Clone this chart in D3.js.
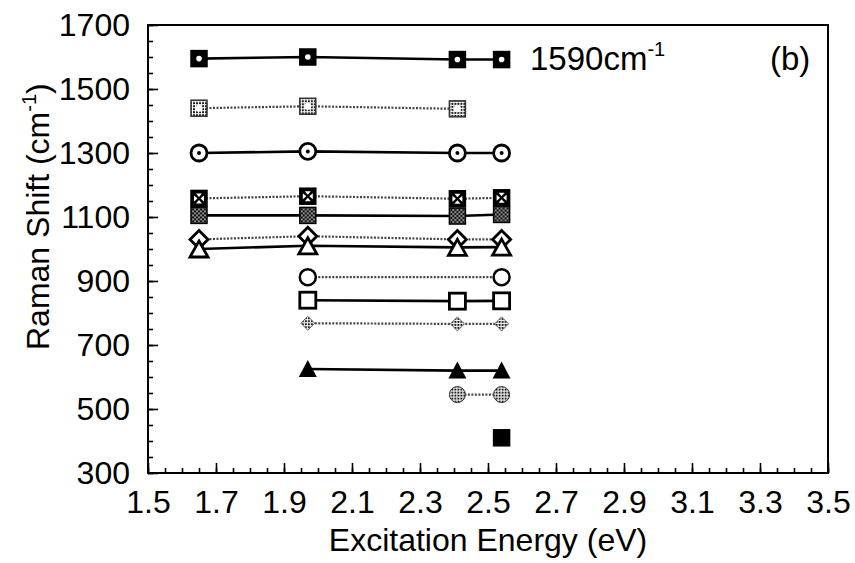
<!DOCTYPE html>
<html>
<head>
<meta charset="utf-8">
<script src="https://cdn.jsdelivr.net/npm/d3@7"></script>
<style>
  body { margin: 0; background: #fff; }
  text { font-family: "Liberation Sans", Arial, sans-serif; fill: #000; }
</style>
</head>
<body>
<svg id="chart" width="855" height="563"></svg>
<script>
// excitation energies (eV) of the laser lines
const energies = [1.65, 1.97, 2.41, 2.54];

// Raman shift (cm^-1) of each mode per energy, null = not observed
const mode1590 = [1595, 1600, 1592, 1592];
const mode1440 = [1440, 1446, 1438, null];
const mode1300 = [1300, 1305, 1300, 1300];
const mode1160 = [1158, 1165, 1157, 1160];
const mode1105 = [1105, 1105, 1103, 1108];
const mode1030 = [1030, 1040, 1030, 1030];
const mode1005 = [1000, 1010, 1005, 1006];
const mode910 = [null, 912, null, 912];
const mode840 = [null, 840, 837, 838];
const mode770 = [null, 768, 766, 766];
const mode620 = [null, 625, 620, 620];
const mode545 = [null, null, 545, 545];
const mode410 = [null, null, null, 410];

const xTicks = [1.5, 1.7, 1.9, 2.1, 2.3, 2.5, 2.7, 2.9, 3.1, 3.3, 3.5];
const yTicks = [300, 500, 700, 900, 1100, 1300, 1500, 1700];

const series = [
  { v: mode1590, marker: "sqDot", dash: false },
  { v: mode1440, marker: "sqGray", dash: true },
  { v: mode1300, marker: "circDot", dash: false },
  { v: mode1160, marker: "sqX", dash: true },
  { v: mode1105, marker: "sqHatch", dash: false },
  { v: mode1030, marker: "diamond", dash: true },
  { v: mode1005, marker: "triangle", dash: false },
  { v: mode910, marker: "circle", dash: true },
  { v: mode840, marker: "square", dash: false },
  { v: mode770, marker: "diaGray", dash: true },
  { v: mode620, marker: "triFill", dash: false },
  { v: mode545, marker: "circGray", dash: true },
  { v: mode410, marker: "sqFill", dash: false }
];

const svg = d3.select("#chart");
const margin = { left: 148, right: 27, top: 25, bottom: 90 };
const width = 855 - margin.left - margin.right;
const height = 563 - margin.top - margin.bottom;

const x = d3.scaleLinear().domain([1.5, 3.5]).range([0, width]);
const y = d3.scaleLinear().domain([300, 1700]).range([height, 0]);

// textures for the grey markers
const defs = svg.append("defs");
const dots = defs.append("pattern").attr("id", "dots")
  .attr("width", 3).attr("height", 3).attr("patternUnits", "userSpaceOnUse");
dots.append("rect").attr("width", 3).attr("height", 3).attr("fill", "#fff");
dots.append("rect").attr("width", 2).attr("height", 2).attr("fill", "#222");
const hatch = defs.append("pattern").attr("id", "hatch")
  .attr("width", 4).attr("height", 4).attr("patternUnits", "userSpaceOnUse");
hatch.append("rect").attr("width", 4).attr("height", 4).attr("fill", "#888");
hatch.append("path").attr("d", "M0,0L4,4M4,0L0,4").attr("stroke", "#111").attr("stroke-width", 1);

const g = svg.append("g").attr("transform", `translate(${margin.left},${margin.top})`);

// frame
g.append("rect").attr("width", width).attr("height", height)
  .attr("fill", "none").attr("stroke", "#000").attr("stroke-width", 2);

// x axis with minor ticks
const xMinor = d3.range(1.5, 3.5001, 0.05);
g.append("g").attr("transform", `translate(0,${height})`)
  .call(d3.axisBottom(x).tickValues(xMinor).tickSize(-5).tickFormat(""))
  .call(a => a.select(".domain").remove());
g.append("g").attr("transform", `translate(0,${height})`)
  .call(d3.axisBottom(x).tickValues(xTicks).tickSize(-10).tickPadding(17).tickFormat(d3.format(".1f")))
  .call(a => a.select(".domain").remove())
  .call(a => a.selectAll("text").attr("font-size", 32).attr("dy", "0.71em"));

// y axis with minor ticks
const yMinor = d3.range(300, 1701, 50);
g.append("g")
  .call(d3.axisLeft(y).tickValues(yMinor).tickSize(-5).tickFormat(""))
  .call(a => a.select(".domain").remove());
g.append("g")
  .call(d3.axisLeft(y).tickValues(yTicks).tickSize(-10).tickPadding(18).tickFormat(d3.format("d")))
  .call(a => a.select(".domain").remove())
  .call(a => a.selectAll("text").attr("font-size", 32));
g.selectAll(".tick line").attr("stroke", "#000").attr("stroke-width", 1.6);

// lines
const line = d3.line()
  .x(d => x(d.e))
  .y(d => y(d.v));

series.forEach(s => {
  const pts = energies.map((e, i) => ({ e, v: s.v[i] })).filter(d => d.v != null);
  if (pts.length < 2) return;
  g.append("path").datum(pts)
    .attr("d", line)
    .attr("fill", "none")
    .attr("stroke", s.dash ? "#444" : "#000")
    .attr("stroke-width", s.dash ? 2.2 : 2.6)
    .attr("stroke-dasharray", s.dash ? "2,1.5" : null);
});

// markers
function drawMarker(sel, type) {
  const r = 8;
  if (type === "square") {
    sel.append("rect").attr("x", -r).attr("y", -r).attr("width", 2 * r).attr("height", 2 * r)
      .attr("fill", "#fff").attr("stroke", "#000").attr("stroke-width", 2.8);
  } else if (type.startsWith("sq")) {
    const fill = { sqDot: "#000", sqGray: "url(#dots)", sqX: "#000", sqHatch: "url(#hatch)", sqFill: "#000" }[type];
    sel.append("rect").attr("x", -r).attr("y", -r).attr("width", 2 * r).attr("height", 2 * r)
      .attr("fill", fill).attr("stroke", type === "sqGray" ? "#333" : "#000").attr("stroke-width", 1.5);
    if (type === "sqDot") sel.append("circle").attr("r", 2.8).attr("fill", "#fff");
    if (type === "sqGray") sel.append("circle").attr("r", 3.5).attr("fill", "#fff");
    if (type === "sqX") {
      sel.append("path").attr("d", "M-3,-5L3,-5L0,-1.5ZM-3,5L3,5L0,1.5ZM-5,-3L-5,3L-1.5,0ZM5,-3L5,3L1.5,0Z")
        .attr("fill", "#fff");
    }
  } else if (type === "circDot") {
    sel.append("circle").attr("r", r).attr("fill", "#fff").attr("stroke", "#000").attr("stroke-width", 2.8);
    sel.append("circle").attr("r", 2).attr("fill", "#000");
  } else if (type === "circle") {
    sel.append("circle").attr("r", r).attr("fill", "#fff").attr("stroke", "#000").attr("stroke-width", 2.5);
  } else if (type === "circGray") {
    sel.append("circle").attr("r", r).attr("fill", "url(#dots)").attr("stroke", "#333").attr("stroke-width", 1);
  } else if (type === "diamond") {
    sel.append("path").attr("d", `M0,${-r - 1}L${r + 1},0L0,${r + 1}L${-r - 1},0Z`)
      .attr("fill", "#fff").attr("stroke", "#000").attr("stroke-width", 2.8);
  } else if (type === "diaGray") {
    sel.append("path").attr("d", "M0,-7L7,0L0,7L-7,0Z")
      .attr("fill", "url(#dots)").attr("stroke", "#666").attr("stroke-width", 1);
  } else if (type === "triangle") {
    sel.append("path").attr("d", `M0,${-r}L${r + 1},${r}L${-r - 1},${r}Z`)
      .attr("fill", "#fff").attr("stroke", "#000").attr("stroke-width", 2.8);
  } else if (type === "triFill") {
    sel.append("path").attr("d", `M0,${-r - 1}L${r + 1},${r}L${-r - 1},${r}Z`).attr("fill", "#000");
  }
}

series.forEach(s => {
  energies.forEach((e, i) => {
    if (s.v[i] == null) return;
    const m = g.append("g").attr("transform", `translate(${x(e)},${y(s.v[i])})`);
    drawMarker(m, s.marker);
  });
});

// annotations
const lab = g.append("text").attr("x", 382).attr("y", 45).attr("font-size", 33);
lab.append("tspan").text("1590cm");
lab.append("tspan").attr("dy", -14).attr("font-size", 20).text("-1");
g.append("text").attr("x", 622).attr("y", 45).attr("font-size", 33).text("(b)");

// axis titles
svg.append("text").attr("x", margin.left + width / 2).attr("y", 551)
  .attr("text-anchor", "middle").attr("font-size", 32).text("Excitation Energy (eV)");
const yt = svg.append("text").attr("transform", "translate(49,350) rotate(-90)")
  .attr("text-anchor", "start").attr("font-size", 32);
yt.append("tspan").text("Raman Shift (cm");
yt.append("tspan").attr("dy", -13).attr("font-size", 20).text("-1");
yt.append("tspan").attr("dy", 13).text(")");
</script>
</body>
</html>
